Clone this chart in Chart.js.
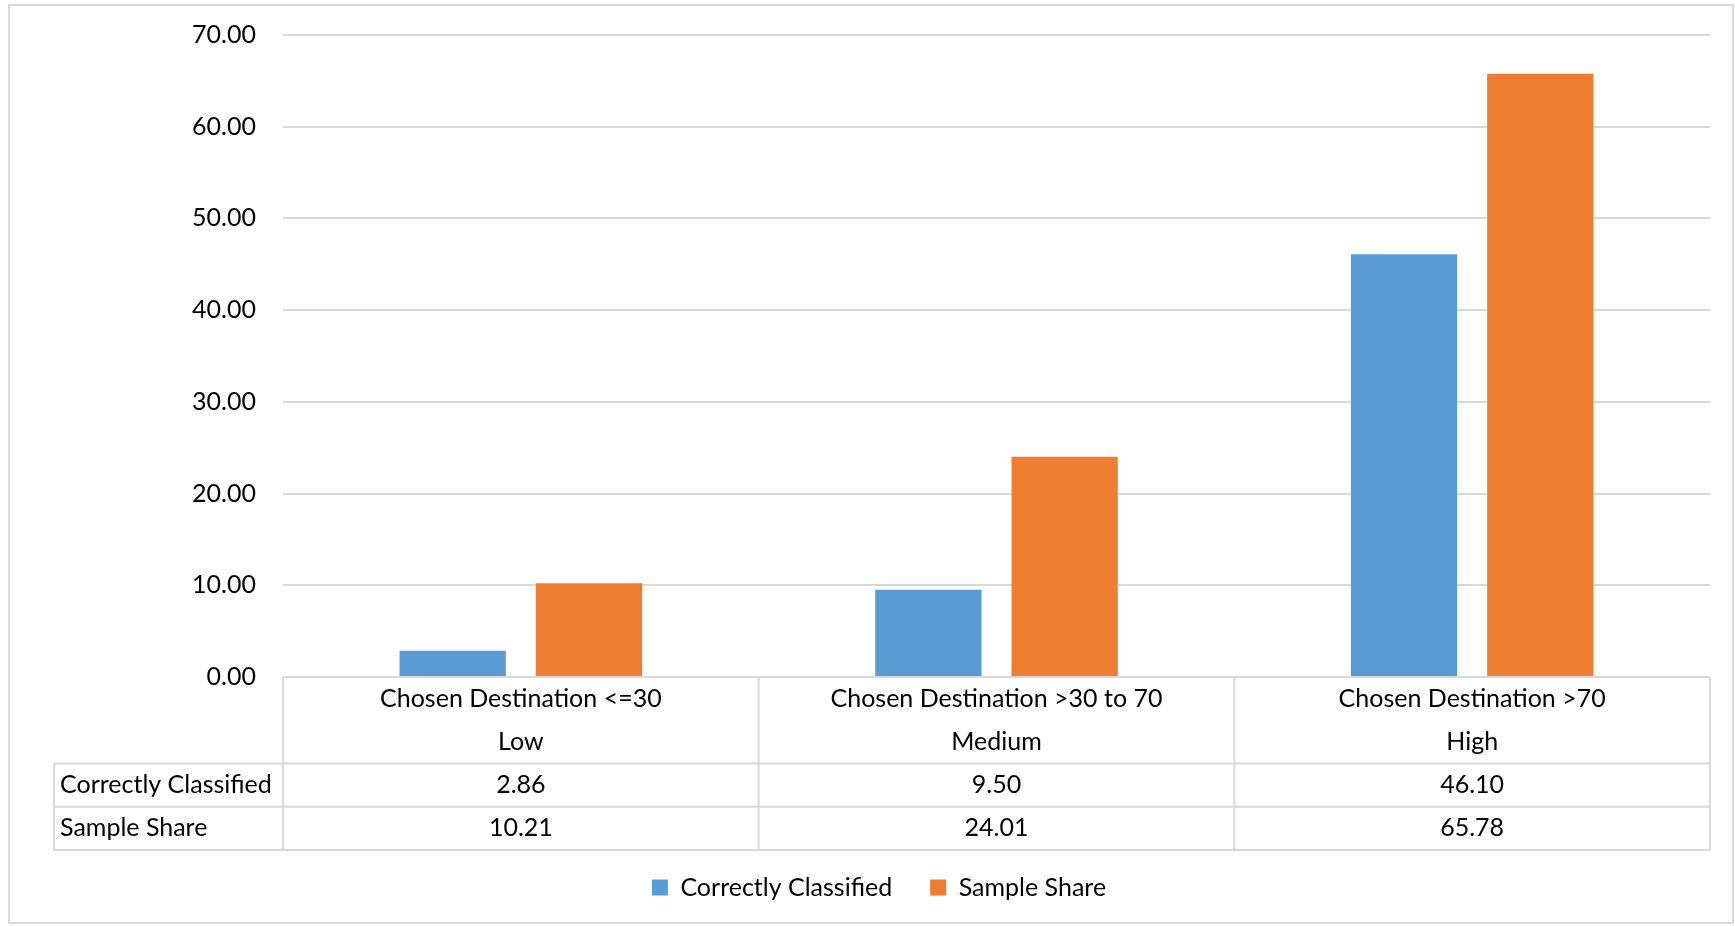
<!DOCTYPE html>
<html>
<head>
<meta charset="utf-8">
<script src="https://cdn.jsdelivr.net/npm/chart.js@4"></script>
<style>
  html, body { margin: 0; padding: 0; background: #fff; }
  #wrap { width: 1735px; height: 926px; }
</style>
</head>
<body>
<div id="wrap"><canvas id="myChart" width="1735" height="926"></canvas></div>
<script>
// data
const categories = ['Chosen Destination <=30', 'Chosen Destination >30 to 70', 'Chosen Destination >70'];
const groups = ['Low', 'Medium', 'High'];
const correctlyClassified = [2.86, 9.50, 46.10];
const sampleShare = [10.21, 24.01, 65.78];
const yTicks = [0, 10, 20, 30, 40, 50, 60, 70];

const FONT = 'Lato';
const lineColor = '#d9d9d9';
const tableH = 173;

// draws the data table under the axis and the outer frame
const tablePlugin = {
    id: 'dataTable',
    afterDraw(chart) {
        const ctx = chart.ctx;
        const x = chart.scales.x;
        const area = chart.chartArea;
        const top = area.bottom;
        const bottom = top + tableH;
        const rowH = tableH / 4;
        const r1 = bottom - 2 * rowH;
        const r2 = bottom - rowH;
        const headLeft = 54;

        ctx.save();
        ctx.strokeStyle = lineColor;
        ctx.lineWidth = 2;

        // outer frame
        ctx.strokeRect(9, 5, 1724, 918);

        ctx.beginPath();
        ctx.moveTo(area.left, top); ctx.lineTo(area.right, top);
        [r1, r2, bottom].forEach(y => { ctx.moveTo(headLeft, y); ctx.lineTo(area.right, y); });
        const edges = [area.left];
        for (let i = 0; i < categories.length - 1; i++) {
            edges.push((x.getPixelForTick(i) + x.getPixelForTick(i + 1)) / 2);
        }
        edges.push(area.right);
        edges.forEach(e => { ctx.moveTo(e, top); ctx.lineTo(e, bottom); });
        ctx.moveTo(headLeft, r1); ctx.lineTo(headLeft, bottom);
        ctx.stroke();

        ctx.fillStyle = '#000';
        ctx.font = '25px ' + FONT;
        ctx.textBaseline = 'middle';
        const rows = [['Correctly Classified', correctlyClassified], ['Sample Share', sampleShare]];
        rows.forEach((row, ri) => {
            const cy = r1 + rowH * ri + rowH / 2;
            ctx.textAlign = 'left';
            ctx.fillText(row[0], headLeft + 6, cy);
            ctx.textAlign = 'center';
            row[1].forEach((v, i) => ctx.fillText(v.toFixed(2), x.getPixelForTick(i), cy));
        });
        ctx.restore();
    }
};

const ctx = document.getElementById('myChart').getContext('2d');
const chart = new Chart(ctx, {
    type: 'bar',
    data: {
        labels: categories.map((c, i) => [c, groups[i]]),
        datasets: [{
            label: 'Correctly Classified',
            backgroundColor: '#5b9bd5',
            data: correctlyClassified
        }, {
            label: 'Sample Share',
            backgroundColor: '#ed7d31',
            data: sampleShare
        }]
    },
    options: {
        responsive: false,
        animation: false,
        layout: { padding: { left: 48, right: 25, top: 35, bottom: 16 } },
        datasets: { bar: { categoryPercentage: 0.573, barPercentage: 0.78 } },
        scales: {
            x: {
                grid: { display: false, drawTicks: false },
                border: { display: false },
                ticks: { color: '#000', font: { family: FONT, size: 25, lineHeight: 1.72 }, padding: 0, maxRotation: 0 },
                afterFit: s => { s.height = tableH - 13; }
            },
            y: {
                min: 0, max: 70,
                afterBuildTicks: s => { s.ticks = yTicks.map(v => ({ value: v })); },
                grid: { color: lineColor, lineWidth: 2, drawTicks: false },
                border: { display: false },
                ticks: { color: '#000', font: { family: FONT, size: 25 }, padding: 27, callback: v => v.toFixed(2) },
                afterFit: s => { s.width = 235; s.paddingTop = 15; s.paddingBottom = 15; }
            }
        },
        plugins: {
            legend: {
                position: 'bottom',
                labels: { color: '#000', font: { family: FONT, size: 25 }, boxWidth: 16, boxHeight: 16, padding: 38 }
            },
            tooltip: { enabled: false }
        }
    },
    plugins: [tablePlugin]
});
</script>
</body>
</html>
